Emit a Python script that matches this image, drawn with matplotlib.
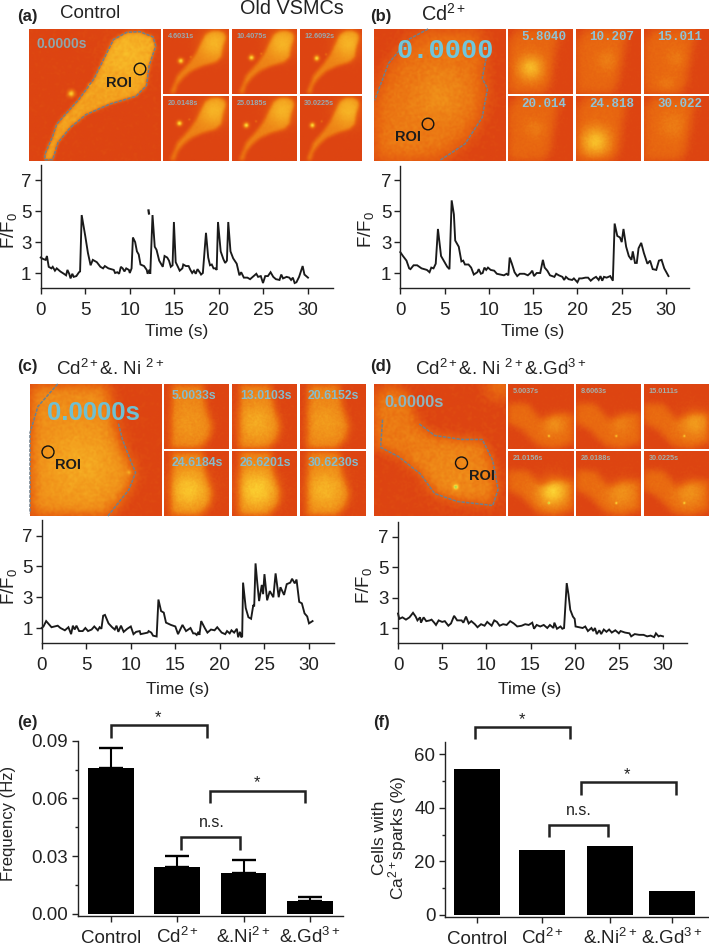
import numpy as np
import matplotlib
matplotlib.use("Agg")
import matplotlib.pyplot as plt
from matplotlib.colors import LinearSegmentedColormap
from matplotlib.patches import Circle
from matplotlib.path import Path

plt.rcParams.update({
    "font.family": ["Liberation Sans", "DejaVu Sans"],
    "mathtext.fontset": "custom",
    "mathtext.rm": "Liberation Sans",
    "mathtext.it": "Liberation Sans",
    "mathtext.bf": "Liberation Sans:bold",
    "mathtext.default": "regular",
})

# ---------- data ----------
time_a = [0, .3, .55, .7, .9, 1.2, 1.35, 1.6, 1.8, 2.2, 2.6, 2.85, 3.0, 3.2, 3.35, 3.55, 3.7, 4.0, 4.3, 4.42, 4.6, 5.0, 5.3, 5.6, 5.85,
          6.3, 6.7, 7.0, 7.2, 7.6, 8.2, 8.35, 8.6, 8.8, 9.0, 9.2, 9.4, 9.6, 9.9, 10.0, 10.2, 10.35, 10.6, 10.8, 11.0, 11.2, 11.6, 11.9,
          12.0, 12.2, 12.3, 12.55, 12.8, 13.0, 13.3, 13.7, 13.9, 14.2, 14.4, 14.6, 14.8, 14.95, 15.15, 15.4, 15.6, 15.9, 16.0, 16.3,
          16.6, 16.8, 17.0, 17.2, 17.4, 17.6, 17.9, 18.0, 18.2, 18.55, 18.8, 19.0, 19.2, 19.4, 19.6, 19.75, 19.9, 20.2, 20.5, 20.7,
          20.9, 21.05, 21.3, 21.6, 22.0, 22.3, 22.5, 22.8, 23.2, 23.5, 24.0, 24.2, 24.4, 24.7, 24.95, 25.2, 25.5, 25.8, 26.1, 26.4,
          26.8, 27.0, 27.2, 27.6, 27.9, 28.1, 28.3, 28.5, 28.7, 29.0, 29.4, 29.6, 30.0]
ratio_a = [2.0, 1.9, 1.85, 2.1, 1.4, 1.3, 1.4, 1.15, 1.3, 1.1, .95, .85, 1.2, .95, .65, .95, .75, .8, 1.05, 1.1, 4.75, 3.4, 2.3, 1.5, 1.85,
           1.7, 1.4, 1.3, 1.45, 1.3, 1.2, 1.0, 1.05, .95, 1.4, 1.3, 1.1, 1.3, 1.2, 1.0, 1.3, 3.3, 3.0, 2.4, 2.2, 1.55, 1.45, 1.2,
           .95, 1.2, .95, 4.75, 2.7, 2.5, 1.8, 1.4, 2.1, 2.0, 1.8, 1.4, 1.5, 4.3, 1.7, 1.4, 1.15, 1.3, 1.55, 1.45,
           1.45, 1.2, 1.0, 1.15, .95, 1.25, 1.0, .9, 1.0, 3.6, 2.0, 1.5, 1.55, 1.3, 1.3, 1.2, 4.3, 2.4, 1.9, 1.65,
           1.8, 4.3, 2.4, 1.95, 1.6, .85, 1.05, .7, .7, .6, .85, .95, .75, .8, .35, .8, .8, 1.05, .75, .6,
           .55, .9, .65, .75, .7, .55, .7, .35, .4, .75, 1.45, .9, .7]
stray_time_a = [12.1, 12.15]
stray_ratio_a = [5.05, 4.85]

time_b = [0, .3, .7, 1.0, 1.15, 1.5, 1.9, 2.4, 3.0, 3.3, 3.5, 3.75, 4.0, 4.25, 4.6, 5.0, 5.3, 5.55, 5.8, 6.05, 6.2, 6.6, 6.9, 7.1, 7.3, 7.7,
          8.0, 8.3, 8.7, 8.85, 9.1, 9.3, 9.5, 9.7, 9.9, 10.2, 10.6, 10.9, 11.3, 11.7, 12.0, 12.2, 12.35, 12.6, 12.9, 13.2, 13.5, 14, 14.4,
          14.7, 14.9, 15.1, 15.4, 15.8, 16.1, 16.3, 16.6, 16.9, 17.4, 17.6, 17.9, 18.3, 18.5, 18.7, 19, 19.4, 19.6, 20, 20.2, 20.5, 20.9,
          21.2, 21.5, 21.8, 22.1, 22.4, 22.6, 22.8, 23, 23.3, 23.7, 24.0, 24.2, 24.5, 24.8, 25.0, 25.2, 25.5, 25.8, 26.1, 26.25, 26.5,
          26.7, 26.9, 27.2, 27.5, 27.9, 28.2, 28.5, 28.9, 29.2, 29.5, 29.8, 30.28]
ratio_b = [2.35, 2.1, 1.8, 1.3, 1.25, 1.5, 1.5, 1.3, 1.2, 1.05, 1.35, 1.3, 1.6, 3.85, 2.1, 1.7, 1.4, 1.25, 5.7, 4.8, 3.1, 2.7, 1.75, 1.8, 1.55, 1.55,
           1.35, .9, 1.05, 1.25, .95, 1.0, 1.35, 1.2, 1.35, 1.2, 1.15, .95, .9, .85, .95, .85, 2.0, 1.6, 1.05, .8, .95, .95, .85,
           1.0, 1.15, .8, 1.0, 1.0, 1.85, 1.35, 1.15, .85, .75, .95, .85, .75, .55, .75, .6, .55, .65, .4, .65, .65, .7,
           .7, .5, .65, .75, .55, .8, .5, .75, .7, .8, .5, 4.2, 3.4, 3.3, 3.0, 3.85, 2.7, 2.1, 1.85, 2.4, 1.65,
           1.65, 2.6, 2.95, 2.3, 1.6, 1.8, 1.25, 1.2, 1.8, 1.85, 1.3, .8]

time_c = [0, .2, .5, .8, 1.1, 1.8, 2.1, 2.6, 3.0, 3.3, 3.5, 3.7, 3.9, 4.2, 4.6, 4.9, 5.2, 5.6, 5.9, 6.3, 6.5, 6.7, 6.9, 7.1, 7.5, 7.9, 8.2, 8.4,
          8.6, 8.9, 9.2, 9.6, 10, 10.3, 10.6, 11, 11.1, 11.5, 11.9, 12.0, 12.3, 12.5, 12.9, 13.1, 13.4, 13.7, 13.95, 14.5, 15, 15.3, 15.8,
          16.2, 16.7, 17, 17.2, 17.4, 17.6, 17.7, 17.9, 18.3, 18.6, 19, 19.4, 19.7, 20.2, 20.6, 20.8, 21.1, 21.3, 21.6, 21.9, 22.05, 22.25,
          22.4, 22.5, 22.6, 22.9, 23.2, 23.5, 23.75, 23.85, 24.0, 24.2, 24.4, 24.7, 24.85, 25.0, 25.3, 25.6, 26.0, 26.25, 26.6, 26.8,
          27.2, 27.5, 27.9, 28.1, 28.4, 28.6, 28.9, 29.2, 29.5, 29.8, 30, 30.4]
ratio_c = [1.0, 1.1, 1.45, 1.25, 1.05, 1.15, 1.0, .85, 1.05, .6, 1.15, .9, 1.15, .8, .8, 1.0, .8, .9, 1.1, .85, 1.05, .95, 1.8, 1.85, 1.3, 1.05, .9, 1.15,
           .75, 1.15, .75, .95, 1.1, .6, .75, .8, .6, .65, .7, .8, .7, .5, .45, 2.85, 2.1, 2.0, 1.35, 1.2, 1.1, .6, 1.2,
           .8, 1.0, .65, .65, .55, .75, .55, 1.45, 1.0, .7, .9, .85, 1.05, .7, .6, .8, .65, .85, .7, .95, .4, .75,
           .4, .45, 3.95, 2.3, 1.7, 1.6, 2.5, 2.4, 5.2, 3.9, 2.75, 3.8, 3.2, 4.5, 2.8, 3.4, 3.0, 4.55, 3.0, 3.65,
           3.15, 3.85, 3.95, 4.2, 3.9, 4.15, 2.7, 2.6, 1.95, 1.75, 1.3, 1.45]

time_d = [0, .15, .5, .9, 1.3, 1.7, 2.0, 2.2, 2.5, 2.6, 2.9, 3.2, 3.6, 3.8, 4.1, 4.3, 4.6, 5.0, 5.3, 5.7, 6.0, 6.35, 6.7, 7.2, 7.4, 7.7, 8.0, 8.3, 8.7,
          9.0, 9.4, 9.8, 10.1, 10.6, 10.9, 11.2, 11.5, 11.9, 12.3, 12.7, 13.1, 13.5, 14, 14.4, 14.8, 15.2, 15.4, 15.7, 16.1, 16.5, 16.9, 17.2,
          17.6, 17.7, 18, 18.4, 18.6, 18.8, 19.1, 19.3, 19.5, 19.8, 20, 20.1, 20.5, 20.9, 21.2, 21.5, 21.9, 22.1, 22.3, 22.5, 22.8, 23, 23.3,
          23.6, 23.9, 24.2, 24.6, 25, 25.2, 25.7, 26.2, 26.4, 26.8, 27.3, 27.8, 28.2, 28.6, 29, 29.2, 29.5, 29.7, 30]
ratio_d = [1.95, 1.6, 1.7, 1.55, 1.7, 2.0, 1.75, 1.5, 1.7, 1.35, 1.7, 1.45, 1.5, 1.55, 1.35, 1.2, 1.5, 1.4, 1.45, 1.15, 1.3, 1.8, 1.5, 1.5, 1.35, 1.75, 1.3, 1.45, 1.25,
           1.05, 1.25, 1.15, 1.4, 1.15, 1.5, 1.4, 1.15, 1.25, 1.2, 1.45, 1.3, 1.1, 1.15, 1.25, 1.2, 1.35, .95, 1.2, 1.1, 1.2, 1.0, 1.2,
           1.0, 1.35, .95, 1.1, .95, 1.0, 3.95, 3.2, 2.2, 1.75, 1.6, 1.1, 1.05, 1.0, 1.1, .8, 1.0, .8, 1.0, .6, .85, .6, .9,
           .75, .9, .7, .85, .65, .8, .7, .65, .45, .6, .55, .55, .45, .5, .4, .65, .45, .5, .45]

groups = ["Control", "Cd$^{2+}$", "&.Ni$^{2+}$", "&.Gd$^{3+}$"]
frequency = [0.0758, 0.0244, 0.0213, 0.0068]
frequency_err = [0.0102, 0.0056, 0.0066, 0.0022]
cells_pct = [54.6, 24.1, 25.9, 9.1]

stamps_a = ["4.6031s", "10.4075s", "12.6092s", "20.0148s", "25.0185s", "30.0225s"]
stamps_b = ["5.8040", "10.207", "15.011", "20.014", "24.818", "30.022"]
stamps_c = ["5.0033s", "13.0103s", "20.6152s", "24.6184s", "26.6201s", "30.6230s"]
stamps_d = ["5.0037s", "8.6063s", "15.0111s", "21.0156s", "26.0188s", "30.0225s"]

# ---------- layout helpers (pixel geometry of the reference) ----------
W, H = 709, 946
INK = "#222222"
fig = plt.figure(figsize=(W / 100, H / 100), dpi=100, facecolor="white")
canvas = fig.add_axes([0, 0, 1, 1], zorder=0)
canvas.axis("off")


def pixel_axes(left, top, right, bottom):
    ax = fig.add_axes([left / W, 1 - bottom / H, (right - left) / W, (bottom - top) / H], zorder=2)
    ax.patch.set_alpha(0)
    for side in ("top", "right"):
        ax.spines[side].set_visible(False)
    for side in ("left", "bottom"):
        ax.spines[side].set_linewidth(1.0)
        ax.spines[side].set_color(INK)
    return ax


CMAP = LinearSegmentedColormap.from_list(
    "fluo", [(0, "#DD4412"), (.3, "#E96A10"), (.55, "#F29A1C"), (.78, "#FBCB2E"), (.9, "#FFE94A"), (1, "#7FDB4A")])


def blur(a, sigma):
    n = a.shape[0]
    f = np.fft.fftfreq(n)
    g = np.exp(-2 * (np.pi * sigma) ** 2 * (f[None, :] ** 2 + f[:, None] ** 2))
    return np.fft.ifft2(np.fft.fft2(a) * g).real


def speckle(n, offset):
    # Fixed shader-style hash for the camera grain of the micrographs
    i, j = np.meshgrid(np.arange(n) + offset, np.arange(n) + 2 * offset)
    h = np.sin(i * 12.9898 + j * 78.233) * 43758.5453
    return blur(2 * (h - np.floor(h)) - 1, .8) * 3


panel_counter = [0]


def micrograph(box, shape, gain, hot=(), spots=(), soft=6, texture=.02):
    x0, y0, x1, y1 = box
    n = 120
    c = (np.arange(n * 2) - n / 2 + .5) / n
    gx, gy = np.meshgrid(c, c)
    inside = Path(shape).contains_points(np.c_[gx.ravel(), gy.ravel()]).reshape(gx.shape).astype(float)
    field = blur(inside, soft)[n // 2:n // 2 + n, n // 2:n // 2 + n] * gain
    u = (np.arange(n) + .5) / n
    ux, uy = np.meshgrid(u, u)
    for hx, hy, hs, ha in hot:
        field = field + ha * np.exp(-((ux - hx) ** 2 + (uy - hy) ** 2) / (2 * hs ** 2))
    for sx, sy, ss, sa in spots:
        field = field + sa * np.exp(-((ux - sx) ** 2 + (uy - sy) ** 2) / (2 * ss ** 2))
    panel_counter[0] += 1
    field = np.clip(field + texture * speckle(n, panel_counter[0] * 17), 0, 1)
    canvas.imshow(field, extent=(x0, x1, y1, y0), cmap=CMAP, vmin=0, vmax=1,
                  aspect="auto", interpolation="bilinear", zorder=1)


def outline(box, pts):
    x0, y0, x1, y1 = box
    p = np.array(pts)
    canvas.plot(x0 + p[:, 0] * (x1 - x0), y0 + p[:, 1] * (y1 - y0), color="#6F7F8C", lw=1.1,
                ls=(0, (2.2, .8)), zorder=3)


def small_boxes(x_cols, y_rows):
    return [(x_cols[c][0], y_rows[r][0], x_cols[c][1], y_rows[r][1]) for r in range(2) for c in range(3)]


def stamp(box, text, size=5.2, color="#9AA9AE", dx=.07, dy=.11, family=None, weight="bold"):
    canvas.text(box[0] + dx * (box[2] - box[0]), box[1] + dy * (box[3] - box[1]), text, fontsize=size, color=color,
                ha="left", va="center", fontweight=weight, zorder=4,
                family=family or ["Liberation Sans", "DejaVu Sans"])


def roi(cx, cy, r, tx, ty):
    canvas.add_patch(Circle((cx, cy), r, fill=False, ec="#111111", lw=1.0, zorder=5))
    canvas.text(tx, ty, "ROI", fontsize=10.5, fontweight="bold", color="#1c1c1c", ha="center", va="center", zorder=5)


# ---------- micrographs ----------
shape_a = [(.12, .99), (.18, .99), (.22, .86), (.31, .75), (.43, .65), (.61, .57), (.81, .51), (.89, .43), (.91, .28), (.96, .13),
           (.94, .06), (.84, .02), (.74, .025), (.64, .08), (.59, .18), (.49, .38), (.38, .53), (.21, .72), (.18, .81), (.12, .95), (.12, .99)]
box = (29, 29, 161, 161)
micrograph(box, shape_a, .58, hot=[(.75, .2, .14, .1)], spots=[(.32, .49, .02, .75), (.46, .42, .01, .3)], soft=1.5, texture=.03)
outline(box, shape_a)
stamp(box, "0.0000s", size=10, color="#8FA6AC", dx=.06, dy=.11)
roi(140, 69, 5.8, 119, 83)
spots_a = [(.27, .49), (.30, .44), (.27, .45), (.25, .42), (.22, .45), (.2, .45)]
boxes = small_boxes([(163, 229), (232, 297), (300, 362)], [(29, 94), (96, 161)])
for b, s, (sx, sy) in zip(boxes, stamps_a, spots_a):
    micrograph(b, shape_a, .42, hot=[(.78, .22, .17, .25)], spots=[(sx, sy, .03, .85), (sx + .15, sy - .06, .012, .3)], soft=3, texture=.012)
    stamp(b, s)

shape_b = [(.41, 0), (.26, .08), (.11, .26), (0, .54), (0, 1), (.5, 1), (.69, .87), (.82, .67), (.86, .45), (.82, .375), (.85, .22), (.8, 0), (.41, 0)]
box = (374, 29, 506, 161)
micrograph(box, shape_b, .33, hot=[(.5, .5, .16, .14), (.22, .85, .2, .05)], soft=7, texture=.03)
outline(box, [(.41, 0), (.26, .08), (.11, .26), (.005, .54)])
outline(box, [(.85, .22), (.82, .375), (.86, .45), (.82, .67), (.69, .87), (.5, .995)])
stamp(box, "0.0000", size=19.5, color="#6FC6DC", dx=.17, dy=.165, family=["Liberation Mono"])
roi(428, 124, 5.8, 408, 137)
hot_b = [[(.35, .6, .14, .42)], [(.48, .48, .13, .12)], [(.5, .45, .12, .1), (.35, .85, .1, .1)],
         [(.4, .5, .12, .1)], [(.3, .7, .16, .45)], [(.45, .45, .16, .12)]]
shape_b2 = [(0, .2), (.15, 0), (.8, 0), (.7, .5), (.65, .85), (.55, 1), (0, 1), (0, .2)]
boxes = small_boxes([(508, 573), (576, 641), (644, 709)], [(29, 94), (96, 161)])
for b, s, h in zip(boxes, stamps_b, hot_b):
    micrograph(b, shape_b2, .27, hot=h, soft=8, texture=.025)
    stamp(b, s, size=9, color="#8FC3D6", dx=.2, dy=.13, family=["Liberation Mono"])

shape_c = [(0, 0), (.6, 0), (.62, .2), (.67, .42), (.76, .6), (.8, .67), (.75, .8), (.6, 1), (0, 1), (0, 0)]
box = (30, 384, 162, 516)
micrograph(box, shape_c, .47, hot=[(.38, .62, .22, .14)], spots=[(.75, .67, .012, .25)], soft=6, texture=.03)
outline(box, [(.21, 0), (.06, .17), (0, .37), (0, .98)])
outline(box, [(.67, .3), (.7, .42), (.77, .6), (.8, .67), (.75, .8), (.59, 1)])
stamp(box, "0.0000s", size=18.5, color="#6FC0D2", dx=.13, dy=.22)
roi(48, 452, 6, 68, 465)
shape_c2 = [(.12, 0), (.6, 0), (.65, .35), (.75, .65), (.7, .85), (.55, 1), (.1, 1), (.12, 0)]
amp_c = [.1, .2, .13, .32, .36, .25]
boxes = small_boxes([(164, 229), (232, 297), (300, 366)], [(384, 449), (451, 516)])
for b, s, a in zip(boxes, stamps_c, amp_c):
    micrograph(b, shape_c2, .42, hot=[(.38, .6, .22, a)], soft=6, texture=.03)
    stamp(b, s, size=8.8, color="#86BCCB", dx=.12, dy=.18)

open_d = [(.065, .27), (.05, .48), (.185, .55), (.35, .68), (.46, .83), (.63, .89), (.9, .92), (.94, .8), (.9, .58), (.82, .42), (.66, .42), (.46, .39), (.34, .3)]
shape_d = [(0, .1), (0, .48), (.185, .55), (.35, .68), (.46, .83), (.63, .89), (.9, .92), (.94, .8), (.9, .58), (.82, .42), (.66, .42),
           (.46, .39), (.34, .3), (.25, .05), (.1, 0), (0, .1)]
box = (374, 384, 506, 516)
micrograph(box, shape_d, .38, hot=[(.95, .02, .08, .3), (.6, .68, .2, .08)], spots=[(.62, .78, .014, .6)], soft=5, texture=.035)
outline(box, open_d)
stamp(box, "0.0000s", size=12, color="#8DB5BF", dx=.08, dy=.14)
roi(461.5, 463, 6, 482, 476)
shape_d2 = [(0, .3), (.3, .3), (.5, .55), (.75, .45), (1, .45), (1, .9), (.7, 1), (.45, .95), (.2, .7), (0, .6), (0, .3)]
hot_d = [[(.7, .62, .12, .18)], [(.7, .62, .12, .1)], [(.78, .6, .16, .25)], [(.68, .62, .16, .5)], [(.7, .65, .16, .2)], [(.7, .65, .15, .2)]]
boxes = small_boxes([(508, 574), (576, 641), (644, 709)], [(384, 449), (451, 516)])
for b, s, h in zip(boxes, stamps_d, hot_d):
    micrograph(b, shape_d2, .3, hot=h, spots=[(.62, .8, .012, .5)], soft=6, texture=.025)
    stamp(b, s, size=5.2, color="#A7AFA9", dx=.07, dy=.11)

# ---------- texts on the full canvas ----------
canvas.set_xlim(0, W)
canvas.set_ylim(H, 0)
panel_tags = [("(a)", 27, 16), ("(b)", 381, 16), ("(c)", 27, 366), ("(d)", 381, 366), ("(e)", 27, 722), ("(f)", 381, 722)]
for tag, x, y in panel_tags:
    canvas.text(x, y, tag, fontsize=12, fontweight="bold", color=INK, ha="center", va="center")
titles = [("Control", 60, 14, 13.5), ("Old VSMCs", 240, 9, 14.3), ("Cd$^{2+}$", 421, 14, 14.3), ("Cd$^{2+}$&. Ni $^{2+}$", 56, 369, 13.5),
          ("Cd$^{2+}$&. Ni $^{2+}$&.Gd$^{3+}$", 415, 369, 13.5)]
for title, x, y, size in titles:
    canvas.text(x, y, title, fontsize=size, color=INK, ha="left", va="center")


# ---------- traces ----------
def trace_panel(px, t, v, ylab_x, ylab_y, xlab_x, xlab_y):
    left, right, top, base, zero_x, thirty_x, one_y, seven_y = px
    ax = pixel_axes(left, top, right, base)
    per_s = (thirty_x - zero_x) / 30
    per_u = (one_y - seven_y) / 6
    ax.set_xlim((left - zero_x) / per_s, (right - zero_x) / per_s)
    ax.set_ylim(1 - (base - one_y) / per_u, 1 + (one_y - top) / per_u)
    ax.plot(t, v, color="#1a1a1a", lw=1.35, solid_joinstyle="miter", clip_on=False)
    ax.set_xticks(range(0, 31, 5))
    ax.set_yticks([1, 3, 5, 7])
    ax.tick_params(axis="both", direction="out", length=4, width=1.0, color=INK, labelcolor=INK, labelsize=13.5)
    ax.tick_params(axis="x", pad=6)
    ax.tick_params(axis="y", pad=2.5)
    canvas.text(ylab_x, ylab_y, "F/F$_0$", rotation=90, fontsize=13.5, color=INK, ha="center", va="center")
    canvas.text(xlab_x, xlab_y, "Time (s)", fontsize=12.5, color=INK, ha="center", va="center")
    return ax


ax_a = trace_panel((40.5, 333, 165, 288, 40.7, 308, 273, 180.3), time_a, ratio_a, 9, 230, 177, 331)
ax_a.plot(stray_time_a, stray_ratio_a, color="#1a1a1a", lw=1.6)
trace_panel((400.3, 689, 166, 288, 400.3, 666, 273, 180.3), time_b, ratio_b, 366, 229, 533, 331)
trace_panel((41.7, 334, 520, 643, 41.7, 309, 628, 535.7), time_c, ratio_c, 9, 586, 178, 689)
trace_panel((398, 687, 522, 643.3, 398, 663, 628, 536.7), time_d, ratio_d, 364, 585, 530, 689)


# ---------- bars ----------
def bracket(x0, x1, top, drop, label, lx, ly, size):
    canvas.plot([x0, x0, x1, x1], [drop, top, top, drop], color=INK, lw=1.8, solid_joinstyle="miter", solid_capstyle="butt", zorder=4)
    canvas.text(lx, ly, label, fontsize=size, color=INK, ha="center", va="center", zorder=4)


ax_e = pixel_axes(78, 740.7, 343, 916)
ax_e.bar(range(4), frequency, width=.69, color="black", zorder=3)
ax_e.errorbar(range(4), frequency, yerr=[[0] * 4, frequency_err], fmt="none", ecolor="black", elinewidth=1.5,
              capsize=8.3, capthick=1.7, zorder=2)
ax_e.set_xlim(-.498, 3.5)
ax_e.set_ylim(-.00104, .09)
ax_e.set_xticks(range(4), groups)
ax_e.set_yticks([0, .03, .06, .09], ["0.00", "0.03", "0.06", "0.09"])
ax_e.set_yticks([.015, .045, .075], minor=True)
ax_e.tick_params(axis="y", which="major", length=4.5, width=1.0, pad=2.5, labelsize=13.5, color=INK, labelcolor=INK)
ax_e.tick_params(axis="y", which="minor", length=2.5, width=1.0, color=INK)
ax_e.tick_params(axis="x", length=4, width=1.0, pad=15.5, labelsize=13.5, color=INK, labelcolor=INK)
for lab in ax_e.get_xticklabels():
    lab.set_va("baseline")
canvas.text(8.5, 823, "Frequency (Hz)", rotation=90, fontsize=12, color=INK, ha="center", va="center")
bracket(111, 207, 725, 738, "*", 158, 718, 12)
bracket(210, 305, 791, 803, "*", 257, 783, 12)
bracket(181, 240, 837, 850, "n.s.", 212, 822, 11.5)

positions_f = [0, 1, 2.05, 3]
ax_f = pixel_axes(445, 741.7, 709, 916.7)
ax_f.bar(positions_f, cells_pct, width=.708, color="black")
ax_f.set_xlim(-.49, 3.57)
ax_f.set_ylim(-.65, 64.7)
ax_f.set_xticks(positions_f, groups)
ax_f.set_yticks([0, 20, 40, 60])
ax_f.set_yticks([10, 30, 50], minor=True)
ax_f.tick_params(axis="y", which="major", length=4.5, width=1.0, pad=2.5, labelsize=13.5, color=INK, labelcolor=INK)
ax_f.tick_params(axis="y", which="minor", length=2.5, width=1.0, color=INK)
ax_f.tick_params(axis="x", length=4, width=1.0, pad=15.5, labelsize=13.5, color=INK, labelcolor=INK)
for lab in ax_f.get_xticklabels():
    lab.set_va("baseline")
canvas.text(379, 838, "Cells with", rotation=90, fontsize=12.5, color=INK, ha="center", va="center")
canvas.text(398, 838, "Ca$^{2+}$sparks (%)", rotation=90, fontsize=12.5, color=INK, ha="center", va="center")
bracket(475, 570, 727, 739, "*", 522, 720, 12)
bracket(581, 676, 782, 795, "*", 627, 775, 12)
bracket(549, 608, 825, 837, "n.s.", 579, 810, 11.5)

canvas.set_xlim(0, W)
canvas.set_ylim(H, 0)
fig.savefig("out.png", dpi=100, facecolor="white")
